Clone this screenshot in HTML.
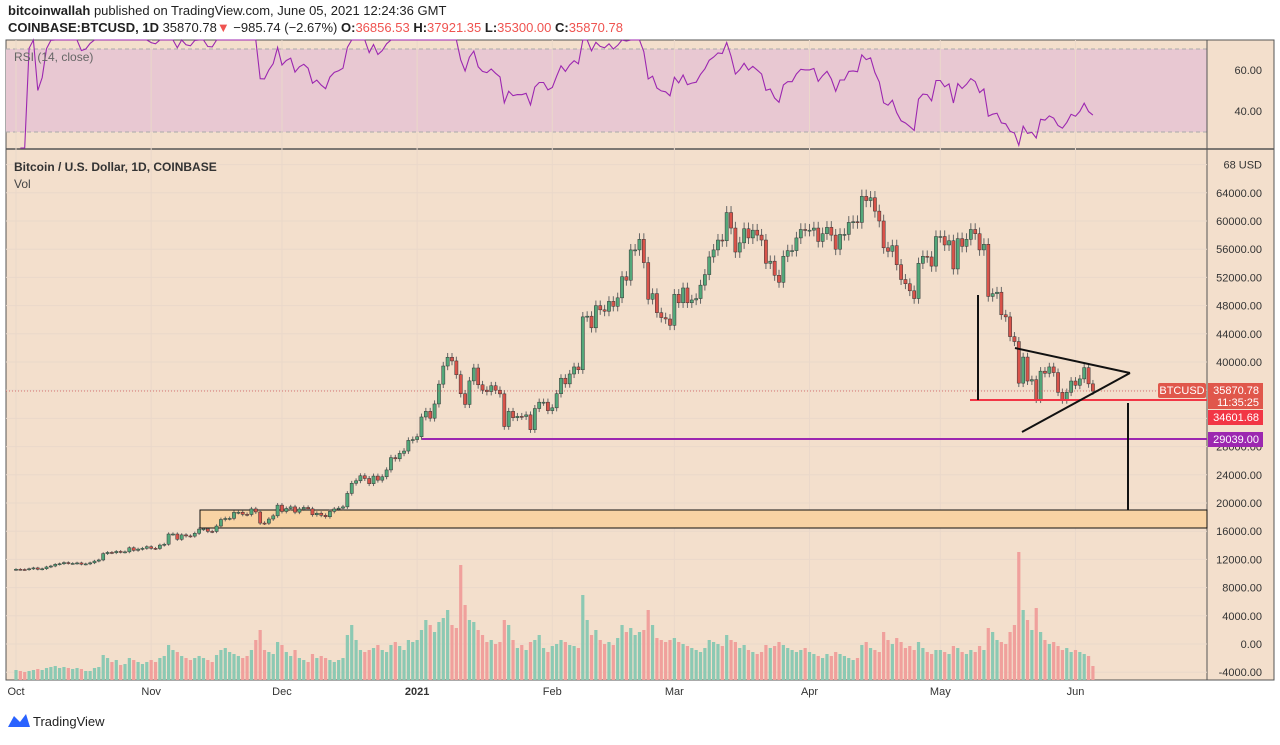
<!DOCTYPE html>
<html><head><meta charset="utf-8">
<style>
body{margin:0;background:#fff;font-family:"Liberation Sans",sans-serif;}
svg text{font-family:"Liberation Sans",sans-serif;}
</style></head>
<body>
<svg id="c" width="1280" height="740" xmlns="http://www.w3.org/2000/svg">
<rect x="0" y="0" width="1280" height="740" fill="#fff"/>
<text x="8" y="15" font-size="13" fill="#222"><tspan font-weight="bold">bitcoinwallah</tspan> published on TradingView.com, June 05, 2021 12:24:36 GMT</text>
<text x="8" y="32" font-size="13" fill="#222"><tspan font-weight="bold">COINBASE:BTCUSD, 1D</tspan> 35870.78<tspan fill="#ef5350">▼</tspan> −985.74 (−2.67%) <tspan font-weight="bold">O:</tspan><tspan fill="#ef5350">36856.53</tspan> <tspan font-weight="bold">H:</tspan><tspan fill="#ef5350">37921.35</tspan> <tspan font-weight="bold">L:</tspan><tspan fill="#ef5350">35300.00</tspan> <tspan font-weight="bold">C:</tspan><tspan fill="#ef5350">35870.78</tspan></text>
<rect x="6" y="40" width="1268" height="640" fill="#f3dfcc" stroke="#555" stroke-width="1"/>
<rect x="6" y="49" width="1201" height="83" fill="#e8c8d2"/>
<line x1="6" y1="49" x2="1207" y2="49" stroke="#aaa" stroke-dasharray="4,3"/>
<line x1="6" y1="132" x2="1207" y2="132" stroke="#aaa" stroke-dasharray="4,3"/>
<line x1="6" y1="149" x2="1274" y2="149" stroke="#555" stroke-width="1.5"/>
<line x1="1207" y1="40" x2="1207" y2="680" stroke="#555"/>
<g id="grid"></g>
<g id="vol"></g>
<rect x="200" y="510" width="1007" height="18" fill="#f8d3a4" stroke="#111" stroke-width="1"/>
<g id="candles"></g>
<g id="rsi"></g>
<text x="14" y="61" font-size="12" fill="#666">RSI (14, close)</text>
<text x="14" y="171" font-size="12" fill="#333" font-weight="bold">Bitcoin / U.S. Dollar, 1D, COINBASE</text>
<text x="14" y="188" font-size="12" fill="#444">Vol</text>
<line x1="6" y1="391" x2="1207" y2="391" stroke="#d05050" stroke-width="0.8" stroke-dasharray="1,2"/>
<line x1="970" y1="400" x2="1207" y2="400" stroke="#f23645" stroke-width="2"/>
<line x1="422" y1="439" x2="1207" y2="439" stroke="#9c27b0" stroke-width="2"/>
<line x1="978" y1="295" x2="978" y2="400" stroke="#111" stroke-width="2"/>
<line x1="1128" y1="403" x2="1128" y2="510" stroke="#111" stroke-width="2"/>
<line x1="1015" y1="348" x2="1130" y2="373" stroke="#111" stroke-width="2"/>
<line x1="1022" y1="432" x2="1130" y2="373" stroke="#111" stroke-width="2"/>
<g id="axis" font-size="11" fill="#333"></g>
<rect x="1158" y="383" width="48" height="15" fill="#e0574b" rx="2"/>
<text x="1182" y="394" font-size="11" fill="#fff" text-anchor="middle">BTCUSD</text>
<rect x="1208" y="383" width="55" height="26" fill="#e0574b"/>
<text x="1259" y="394" font-size="11" fill="#fff" text-anchor="end">35870.78</text>
<text x="1259" y="406" font-size="11" fill="#fff" text-anchor="end">11:35:25</text>
<rect x="1208" y="410" width="55" height="15" fill="#f23645"/>
<text x="1259" y="421" font-size="11" fill="#fff" text-anchor="end">34601.68</text>
<rect x="1208" y="432" width="55" height="15" fill="#9c27b0"/>
<text x="1259" y="443" font-size="11" fill="#fff" text-anchor="end">29039.00</text>
<g>
<path d="M8 727 L14 716 L20 722 L26 714 L30 727 Z" fill="#2962ff"/>
<text x="33" y="726" font-size="13" fill="#222">TradingView</text>
</g>
</svg>
<script>
const closes=[10600,10570,10550,10670,10790,10600,10670,10930,11060,11300,11380,11550,11430,11430,11500,11320,11360,11510,11760,11920,12820,12990,12940,13130,13040,13070,13650,13280,13460,13570,13800,
13570,13550,14030,14150,15600,15600,14850,15480,15330,15300,15700,16300,16330,15970,15960,16730,17660,17800,17820,18670,18690,18390,18370,19160,18730,17150,17140,17730,18180,19700,
18800,19220,19450,18700,19150,19370,19170,18330,18550,18260,18050,18810,19150,19270,19450,21360,22800,23150,23860,23480,22740,23820,23240,23720,24690,26440,26270,27040,27370,28880,29000,
29400,32200,33000,32030,34050,36860,39430,40670,40150,38200,35500,33980,37320,39150,36770,36010,35800,36630,36000,35480,30850,33000,32100,32290,32270,32500,30400,33400,34300,34300,33100,
33500,35500,37700,36900,38300,39300,38900,46400,46500,44850,48000,47400,47200,48600,47900,49100,52100,51600,55900,55900,57400,54100,48900,49700,47000,46300,46100,45200,
49600,48400,50500,48400,48800,49000,50900,52400,54900,55900,57300,57200,61200,59000,55600,56900,58900,57600,58700,58000,57300,54000,54300,52300,51300,55000,55800,55800,57600,58800,58700,
58700,59000,57100,58200,59100,58000,56000,58100,58100,59800,59900,59800,63500,62900,63300,61400,60000,56200,55700,56500,53800,51700,51100,50100,49000,54000,55000,54900,53600,57800,
57800,56600,57200,53200,57500,56400,57400,58800,58200,55900,56700,49300,49700,49900,46700,46400,43600,42900,37000,40700,37300,37500,34700,38700,38400,39300,38500,35700,34600,35700,37300,
36700,37600,39200,36900,35870];
const volumes=[10,9,8,9,10,11,10,12,13,14,12,13,12,11,12,11,9,9,12,13,25,22,18,20,15,16,22,20,18,16,18,
20,18,22,24,35,30,28,24,22,20,22,24,22,20,18,25,30,32,28,26,24,22,24,30,40,50,30,28,26,38,
35,28,24,30,22,20,18,26,22,24,22,20,18,20,22,45,55,40,30,28,30,32,35,30,28,35,38,34,30,40,38,
40,50,60,55,48,58,62,70,55,52,115,75,60,58,50,45,38,40,36,38,60,55,40,32,35,30,38,40,45,32,28,
34,36,40,38,35,34,32,85,60,45,50,40,36,38,35,42,55,48,52,45,48,50,70,55,42,40,38,40,
42,38,36,34,32,30,28,32,40,38,36,34,45,40,38,32,35,30,28,26,28,35,32,34,38,35,32,30,28,30,32,
28,26,24,22,26,24,28,26,24,22,20,22,35,38,32,30,28,48,40,36,42,38,32,34,30,38,32,28,26,30,
30,28,26,34,32,28,26,30,28,34,30,52,48,40,38,36,48,55,128,70,60,50,72,48,40,36,38,34,30,32,28,
30,28,26,24,14];
const priceTicks=[68000,64000,60000,56000,52000,48000,44000,40000,36000,32000,28000,24000,20000,16000,12000,8000,4000,0,-4000];
const rsiTicks=[60,40];
const monthLabels=["Oct","Nov","Dec","2021","Feb","Mar","Apr","May","Jun"];
const monthDays=[0,31,61,92,123,151,182,212,243];
const NS="http://www.w3.org/2000/svg";
const xs=d=>16+4.36*d;
const yp=p=>644-p*0.00705;
const yr=r=>111-(r-40)*2.05;
const yv=v=>680-v;
function mk(tag,attrs,parent){const e=document.createElementNS(NS,tag);for(const k in attrs)e.setAttribute(k,attrs[k]);document.getElementById(parent).appendChild(e);return e;}
priceTicks.forEach(p=>{
 const y=yp(p);
 const g=mk('line',{x1:6,x2:1207,y1:y,y2:y,stroke:'#ead8ca','stroke-width':1},'grid');
 
 
 const t=mk('text',{x:1262,y:y+4,'text-anchor':'end'},'axis');
 t.textContent=p===68000?'68 USD':p.toFixed(2);
 
 
});
rsiTicks.forEach(r=>{
 const t=mk('text',{x:1262,y:yr(r)+4,'text-anchor':'end'},'axis');t.textContent=r.toFixed(2);
 
 
});
monthLabels.forEach((m,i)=>{
 const x=xs(monthDays[i]);
 const g=mk('line',{x1:x,x2:x,y1:40,y2:680,stroke:'#ead8ca'},'grid');
 
 
 const t=mk('text',{x:x,y:695,'text-anchor':'middle','font-weight':m==='2021'?'bold':'normal'},'axis');t.textContent=m;
 
 
});
closes.forEach((c,i)=>{
 const o=i?closes[i-1]:c*0.995;
 const up=c>=o;
 const hi=Math.max(o,c)*1.015, lo=Math.min(o,c)*0.985;
 const x=xs(i);
 const v=mk('rect',{x:x-1.6,y:yv(volumes[i]),width:3.2,height:volumes[i],fill:up?'#8cc9b3':'#f0a09c'},'vol');
 
 
 const w=mk('line',{x1:x,x2:x,y1:yp(hi),y2:yp(lo),stroke:'#666','stroke-width':1},'candles');
 
 
 const top=yp(Math.max(o,c)),bot=yp(Math.min(o,c));
 const b=mk('rect',{x:x-1.6,y:top,width:3.2,height:Math.max(1,bot-top),fill:up?'#53a87a':'#d9534a',stroke:'#333','stroke-width':0.5},'candles');
 
 
});
let ag=0,al=0,pts=[];
for(let i=1;i<closes.length;i++){
 const ch=closes[i]-closes[i-1];const g=Math.max(ch,0),l=Math.max(-ch,0);
 if(i<=14){ag+=g/14;al+=l/14;}else{ag=(ag*13+g)/14;al=(al*13+l)/14;}
 const rsi=al===0?100:100-100/(1+ag/al);
 pts.push(xs(i).toFixed(1)+','+Math.max(40,Math.min(148,yr(rsi))).toFixed(1));
}
const rl=mk('polyline',{points:pts.join(' '),fill:'none',stroke:'#9c27b0','stroke-width':1.1},'rsi');


</script>
</body></html>
